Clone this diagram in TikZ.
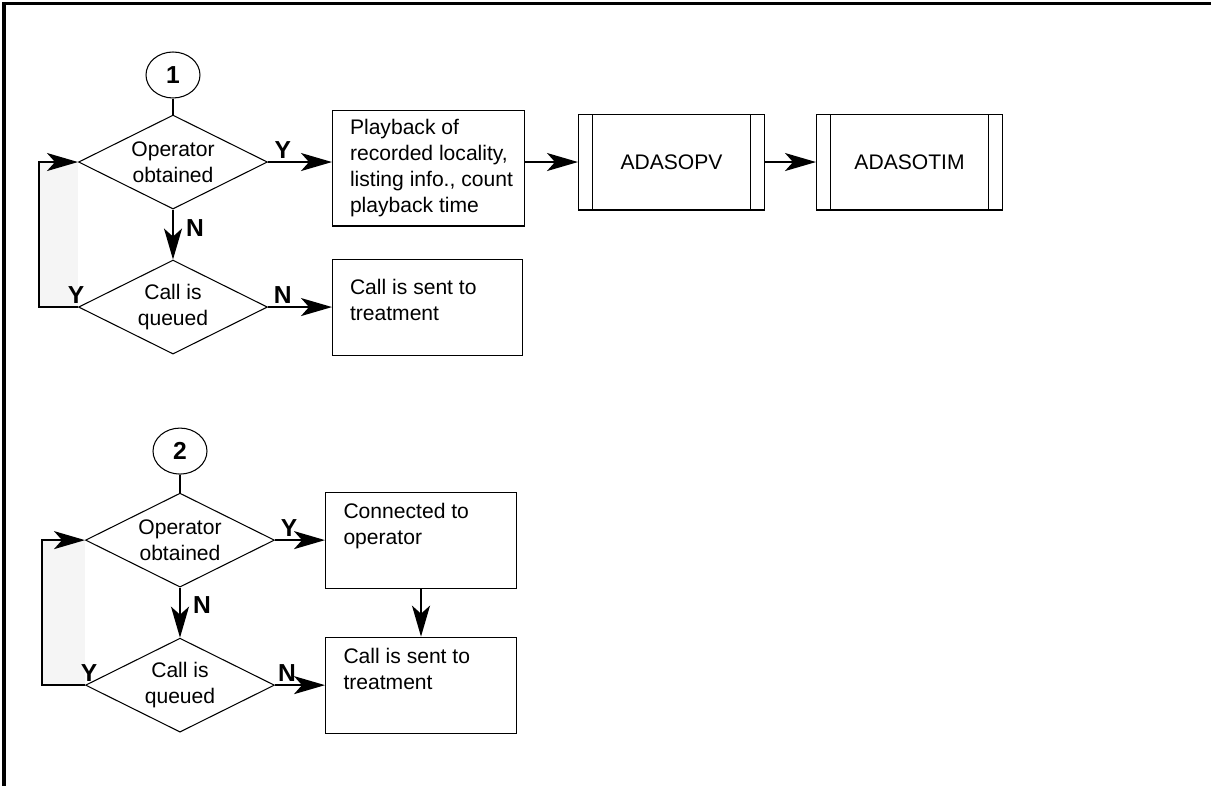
\documentclass[tikz,border=0pt]{standalone}
\usepackage{fontspec}
\setmainfont{Liberation Sans}
\usetikzlibrary{arrows.meta, shapes.geometric, positioning}

\begin{document}
\begin{tikzpicture}[
    x=0.02cm, y=-0.02cm,
    ->, >={Stealth[length=0.62cm, width=0.36cm, inset=0.16cm]}, line width=1.1pt,
    every node/.style={font=\fontsize{12}{14.7}\selectfont, line width=0.6pt, inner sep=0pt},
    connector/.style={ellipse, draw, minimum width=1.08cm, minimum height=0.92cm, font=\fontsize{14}{16}\selectfont\bfseries},
    decision/.style={diamond, draw, aspect=2, minimum width=3.78cm, minimum height=1.88cm, align=center},
    process/.style={rectangle, draw, minimum width=3.82cm, minimum height=1.92cm},
    subproc/.style={rectangle, draw, minimum width=3.72cm, minimum height=1.92cm,
        path picture={
            \draw[-] ([xshift=0.28cm]path picture bounding box.north west) -- ([xshift=0.28cm]path picture bounding box.south west);
            \draw[-] ([xshift=-0.28cm]path picture bounding box.north east) -- ([xshift=-0.28cm]path picture bounding box.south east);
        }},
    yn/.style={font=\fontsize{14}{16}\selectfont\bfseries, inner sep=1.5pt},
    frame/.style={-, line width=1.8pt}
]
\useasboundingbox (0,0) rectangle (1211,786);
\draw[frame] (4,786) -- (4,3.5) -- (1211,3.5);
% first case
\node (start_one) [connector] at (173,75) {1};
\node (operator_one) [decision, below=0.32cm of start_one] {Operator\\obtained};
\node (queued_one) [decision, below=1.0cm of operator_one] {Call is\\queued};
\node (playback_one) [process, minimum width=3.84cm, minimum height=2.32cm, right=1.28cm of operator_one, yshift=-0.12cm] {\hspace*{0.16cm}\parbox{3.3cm}{\raggedright Playback of\\recorded locality,\\listing info., count\\playback time}};
\node (adasopv) [subproc, right=1.06cm of playback_one, yshift=0.12cm] {ADASOPV};
\node (adasotim) [subproc, right=1.02cm of adasopv] {ADASOTIM};
\node (treatment_one) [process, minimum width=3.8cm, right=1.28cm of queued_one] {\parbox[c][1.12cm][t]{3.1cm}{\raggedright Call is sent to\\treatment}};
\fill[black!4] ([xshift=-0.78cm]queued_one.west) rectangle (operator_one.west);
\draw[-, line width=0.6pt] (start_one) -- (operator_one);
\draw[->] (operator_one.east) -- node[yn, above, pos=0.23] {Y} (operator_one.east -| playback_one.west);
\draw[->] (playback_one.east |- adasopv.west) -- (adasopv.west);
\draw[->] (adasopv) -- (adasotim);
\draw[->] (operator_one) -- node[yn, right, pos=0.36, xshift=0.2cm] {N} (queued_one);
\draw[->] (queued_one) -- node[yn, above, pos=0.23] {N} (treatment_one);
\draw[->] (queued_one.west) -- node[yn, above, pos=0.05] {Y} ++(-39,0) |- (operator_one.west);
% second case
\node (start_two) [connector, below=1.46cm of queued_one, xshift=0.14cm] {2};
\node (operator_two) [decision, below=0.36cm of start_two] {Operator\\obtained};
\node (queued_two) [decision, below=1.0cm of operator_two] {Call is\\queued};
\node (connected_two) [process, right=1.0cm of operator_two] {\parbox[c][1.46cm][t]{3.1cm}{\raggedright Connected to\\operator}};
\node (treatment_two) [process, right=1.0cm of queued_two] {\parbox[c][1.46cm][t]{3.1cm}{\raggedright Call is sent to\\treatment}};
\fill[black!4] ([xshift=-0.86cm]queued_two.west) rectangle (operator_two.west);
\draw[-, line width=0.6pt] (start_two) -- (operator_two);
\draw[->] (operator_two.east) -- node[yn, above, pos=0.28] {Y} (operator_two.east -| connected_two.west);
\draw[->] (connected_two) -- (treatment_two);
\draw[->] (operator_two) -- node[yn, right, pos=0.34, xshift=0.2cm] {N} (queued_two);
\draw[->] (queued_two) -- node[yn, above, pos=0.24] {N} (treatment_two);
\draw[->] (queued_two.west) -- node[yn, above, pos=0, xshift=0.08cm] {Y} ++(-43,0) |- (operator_two.west);
\end{tikzpicture}
\end{document}
